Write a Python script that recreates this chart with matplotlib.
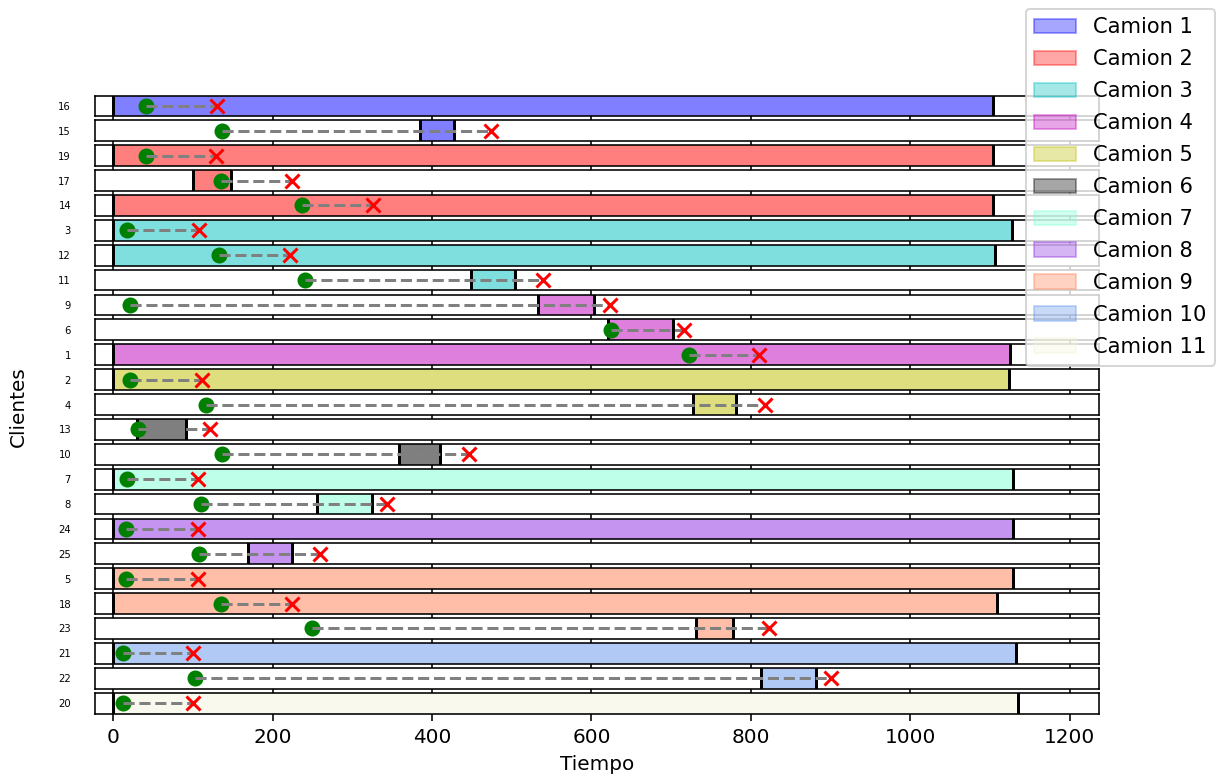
import matplotlib
matplotlib.use("Agg")
import matplotlib.pyplot as plt
import matplotlib.patches as mpatches

# ---- data ----
clientes = [16, 15, 19, 17, 14, 3, 12, 11, 9, 6, 1, 2, 4, 13, 10, 7, 8, 24, 25, 5, 18, 23, 21, 22, 20]
camion = [1, 1, 2, 2, 2, 3, 3, 3, 4, 4, 4, 5, 5, 6, 6, 7, 7, 8, 8, 9, 9, 9, 10, 10, 11]
inicio = [0, 385, 0, 100, 0, 0, 0, 449, 533, 621, 0, 0, 727, 30, 358, 0, 256, 0, 169, 0, 0, 731, 0, 812, 0]
fin = [1104, 428, 1104, 148, 1104, 1127, 1106, 504, 603, 702, 1125, 1123, 781, 91, 410, 1129, 325, 1129, 225, 1129, 1108, 777, 1133, 881, 1135]
ventana_ini = [41, 137, 41, 135, 237, 18, 133, 241, 21, 625, 722, 21, 116, 31, 137, 18, 110, 16, 108, 16, 135, 249, 12, 103, 12]
ventana_fin = [130, 474, 129, 225, 326, 108, 222, 539, 623, 716, 810, 112, 817, 122, 446, 106, 344, 106, 260, 106, 225, 823, 100, 901, 100]

nombres_camion = ["Camion %d" % i for i in range(1, 12)]
colores = ["blue", "red", "c", "m", "y", "k", "aquamarine", "blueviolet",
           "coral", "cornflowerblue", "beige"]

W, H, DPI = 1216, 778, 144
fig, axes = plt.subplots(len(clientes), 1, sharex=True,
                         figsize=(W / DPI, H / DPI), dpi=DPI)
fig.subplots_adjust(left=95 / W, right=1099 / W, top=1 - 95.5 / H,
                    bottom=1 - 713.5 / H, hspace=0.2)

for i, ax in enumerate(axes):
    col = colores[camion[i] - 1]
    ax.axvspan(inicio[i], fin[i], ymin=0, ymax=1, color=col, alpha=0.5, lw=0)
    ax.axvline(inicio[i], color="black", lw=1.5)
    ax.axvline(fin[i], color="black", lw=1.5)
    ax.plot([ventana_ini[i]], [0.5], "o", color="green", ms=7)
    ax.plot([ventana_ini[i], ventana_fin[i]], [0.5, 0.5], "--", color="gray", lw=1.5)
    ax.plot([ventana_fin[i]], [0.5], "x", color="red", ms=7, mew=1.5)
    ax.set_ylim(0, 1)
    ax.set_yticks([0.5])
    ax.set_yticklabels([str(clientes[i])], fontsize=5)
    ax.tick_params(axis="y", length=0, pad=12)

axes[-1].set_xlim(-22.7, 1236.5)
axes[-1].set_xticks([0, 200, 400, 600, 800, 1000, 1200])
axes[-1].set_xlabel("Tiempo")

fig.text(18.5 / W, 1 - 407 / H, "Clientes", rotation=90, ha="center", va="center", fontsize=10)

handles = [mpatches.Patch(color=c, alpha=0.35, label=n) for c, n in zip(colores, nombres_camion)]
fig.legend(handles=handles, loc="upper right", bbox_to_anchor=(1215 / W, 1 - 9 / H),
           borderaxespad=0, fontsize=10.5, labelspacing=0.57)

fig.savefig("out.png", dpi=DPI)
